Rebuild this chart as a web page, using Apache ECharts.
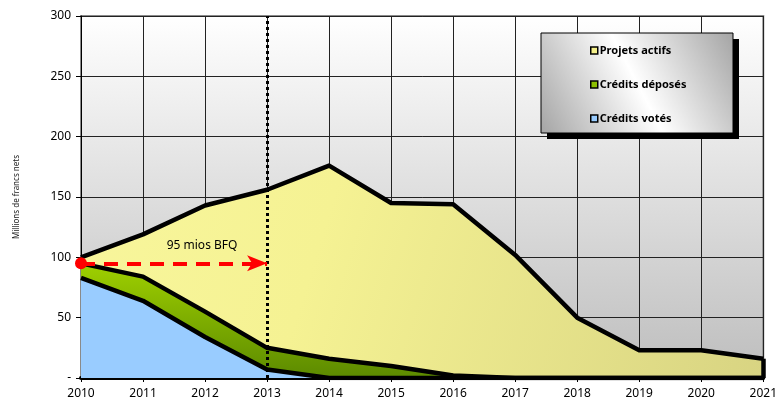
<!DOCTYPE html>
<html>
<head>
<meta charset="utf-8">
<script src="https://cdn.jsdelivr.net/npm/echarts@6/dist/echarts.min.js"></script>
<style>
  html, body { margin: 0; padding: 0; background: #fff; }
  #chart { width: 780px; height: 400px; }
</style>
</head>
<body>
<div id="chart"></div>
<script>
// Years on the horizontal axis
const years = ['2010','2011','2012','2013','2014','2015','2016','2017','2018','2019','2020','2021'];

// Amounts in millions of francs
const projetsActifs   = [100, 119, 143, 156, 176, 145, 144, 102, 50, 23, 23, 16];
const creditsDeposes  = [95, 84, 55, 25, 16, 10, 2, 0, 0, 0, 0, 0];
const creditsVotes    = [83, 64, 34, 7, 0, 0, 0, 0, 0, 0, 0, 0];

// Annotation: 95 mios BFQ carried from 2010 up to 2013
const bfqValue = 95;
const bfqStart = '2010';
const bfqEnd = '2013';
const cutoffYear = '2013';

const FONT = 'Noto Sans';

const chart = echarts.init(document.getElementById('chart'));

chart.setOption({
  animation: false,
  textStyle: { fontFamily: FONT },
  grid: {
    left: 81, right: 13, top: 16, bottom: 22,
    show: true,
    borderColor: '#8a8a8a',
    borderWidth: 2,
    backgroundColor: new echarts.graphic.LinearGradient(0, 0, 0, 1, [
      { offset: 0, color: '#ffffff' },
      { offset: 1, color: '#bdbdbd' }
    ])
  },
  // Legend frame: drop shadow and shaded panel
  graphic: [
    {
      type: 'rect', z: 50,
      shape: { x: 547, y: 39, width: 192, height: 100 },
      style: { fill: '#000' }
    },
    {
      type: 'rect', z: 51,
      shape: { x: 541, y: 33, width: 192, height: 100 },
      style: {
        fill: new echarts.graphic.LinearGradient(0, 1, 1, 0, [
          { offset: 0, color: '#a4a4a4' },
          { offset: 0.5, color: '#ffffff' },
          { offset: 1, color: '#a4a4a4' }
        ]),
        stroke: '#000', lineWidth: 1
      }
    }
  ],
  legend: {
    orient: 'vertical',
    left: 541, top: 35,
    padding: [10, 46, 10, 49],
    itemGap: 23,
    itemWidth: 7, itemHeight: 7,
    icon: 'rect',
    z: 60,
    textStyle: { fontFamily: FONT, fontSize: 11, fontWeight: 'bold', color: '#000', padding: [0, 0, 0, -3] },
    data: [
      { name: 'Projets actifs', itemStyle: { color: '#f4f08a', borderColor: '#000', borderWidth: 1.5 } },
      { name: 'Crédits déposés', itemStyle: { color: '#8cbf00', borderColor: '#000', borderWidth: 1.5 } },
      { name: 'Crédits votés', itemStyle: { color: '#99ccff', borderColor: '#000', borderWidth: 1.5 } }
    ]
  },
  xAxis: {
    type: 'category',
    data: years,
    boundaryGap: false,
    axisLine: { show: true, lineStyle: { color: '#000', width: 4 } },
    axisTick: { show: true, alignWithLabel: true, length: 4, lineStyle: { color: '#000', width: 1 } },
    axisLabel: { color: '#000', fontSize: 12, margin: 10, fontFamily: FONT },
    splitLine: { show: true, lineStyle: { color: '#222', width: 1 } }
  },
  yAxis: {
    type: 'value',
    min: 0, max: 300, interval: 50,
    name: 'Millions de francs nets',
    nameLocation: 'middle',
    nameGap: 60,
    nameRotate: 90,
    nameTextStyle: { fontSize: 8, color: '#222', fontFamily: FONT },
    axisLine: { show: true, lineStyle: { color: '#000', width: 1 } },
    axisTick: { show: true, length: 5, lineStyle: { color: '#000' } },
    axisLabel: {
      color: '#000', fontSize: 12, margin: 10, fontFamily: FONT,
      formatter: v => (v === 0 ? '-' : String(v))
    },
    splitLine: { show: true, lineStyle: { color: '#222', width: 1 } }
  },
  series: [
    {
      name: 'Projets actifs',
      type: 'line',
      data: projetsActifs,
      symbol: 'none',
      lineStyle: { color: '#000', width: 4.5, join: 'round' },
      itemStyle: { color: '#f4f08a' },
      areaStyle: {
        opacity: 1,
        color: new echarts.graphic.LinearGradient(0, 0, 1, 1, [
          { offset: 0, color: '#f8f69c' },
          { offset: 0.35, color: '#f5f293' },
          { offset: 1, color: '#d8d482' }
        ])
      },
      markLine: {
        silent: true,
        symbol: 'none',
        label: { show: false },
        lineStyle: { color: '#000', width: 4.5, type: 'solid' },
        data: [[{ coord: [years[years.length - 1], 0] }, { coord: [years[years.length - 1], projetsActifs[projetsActifs.length - 1]] }]]
      },
      z: 2
    },
    {
      name: 'Crédits déposés',
      type: 'line',
      data: creditsDeposes,
      symbol: 'none',
      lineStyle: { color: '#000', width: 4.5, join: 'round' },
      itemStyle: { color: '#8cbf00' },
      areaStyle: {
        opacity: 1,
        color: new echarts.graphic.LinearGradient(0, 0, 0, 1, [
          { offset: 0, color: '#9fd000' },
          { offset: 1, color: '#5c8a00' }
        ])
      },
      z: 3
    },
    {
      name: 'Crédits votés',
      type: 'line',
      data: creditsVotes,
      symbol: 'none',
      lineStyle: { color: '#000', width: 4.5, join: 'round' },
      itemStyle: { color: '#99ccff' },
      areaStyle: { opacity: 1, color: '#99ccff' },
      markLine: {
        silent: true,
        symbol: 'none',
        label: { show: false },
        lineStyle: { color: '#000', width: 3, type: [3, 3] },
        data: [{ xAxis: cutoffYear }]
      },
      markPoint: {
        silent: true,
        symbol: 'circle',
        symbolSize: 0,
        label: {
          show: true,
          formatter: '95 mios BFQ',
          color: '#000',
          fontSize: 12,
          fontFamily: FONT,
          offset: [-3, -18]
        },
        data: [{ coord: ['2012', bfqValue] }]
      },
      z: 4
    },
    {
      // Red dashed arrow for the BFQ carry-over
      name: 'bfq',
      type: 'line',
      data: [],
      markLine: {
        silent: true,
        symbol: ['circle', 'arrow'],
        symbolSize: [12, 20],
        label: { show: false },
        lineStyle: { color: '#ff0000', width: 4, type: [14, 9] },
        data: [[{ coord: [bfqStart, bfqValue] }, { coord: [bfqEnd, bfqValue] }]]
      },
      z: 5
    }
  ]
});
</script>
</body>
</html>
